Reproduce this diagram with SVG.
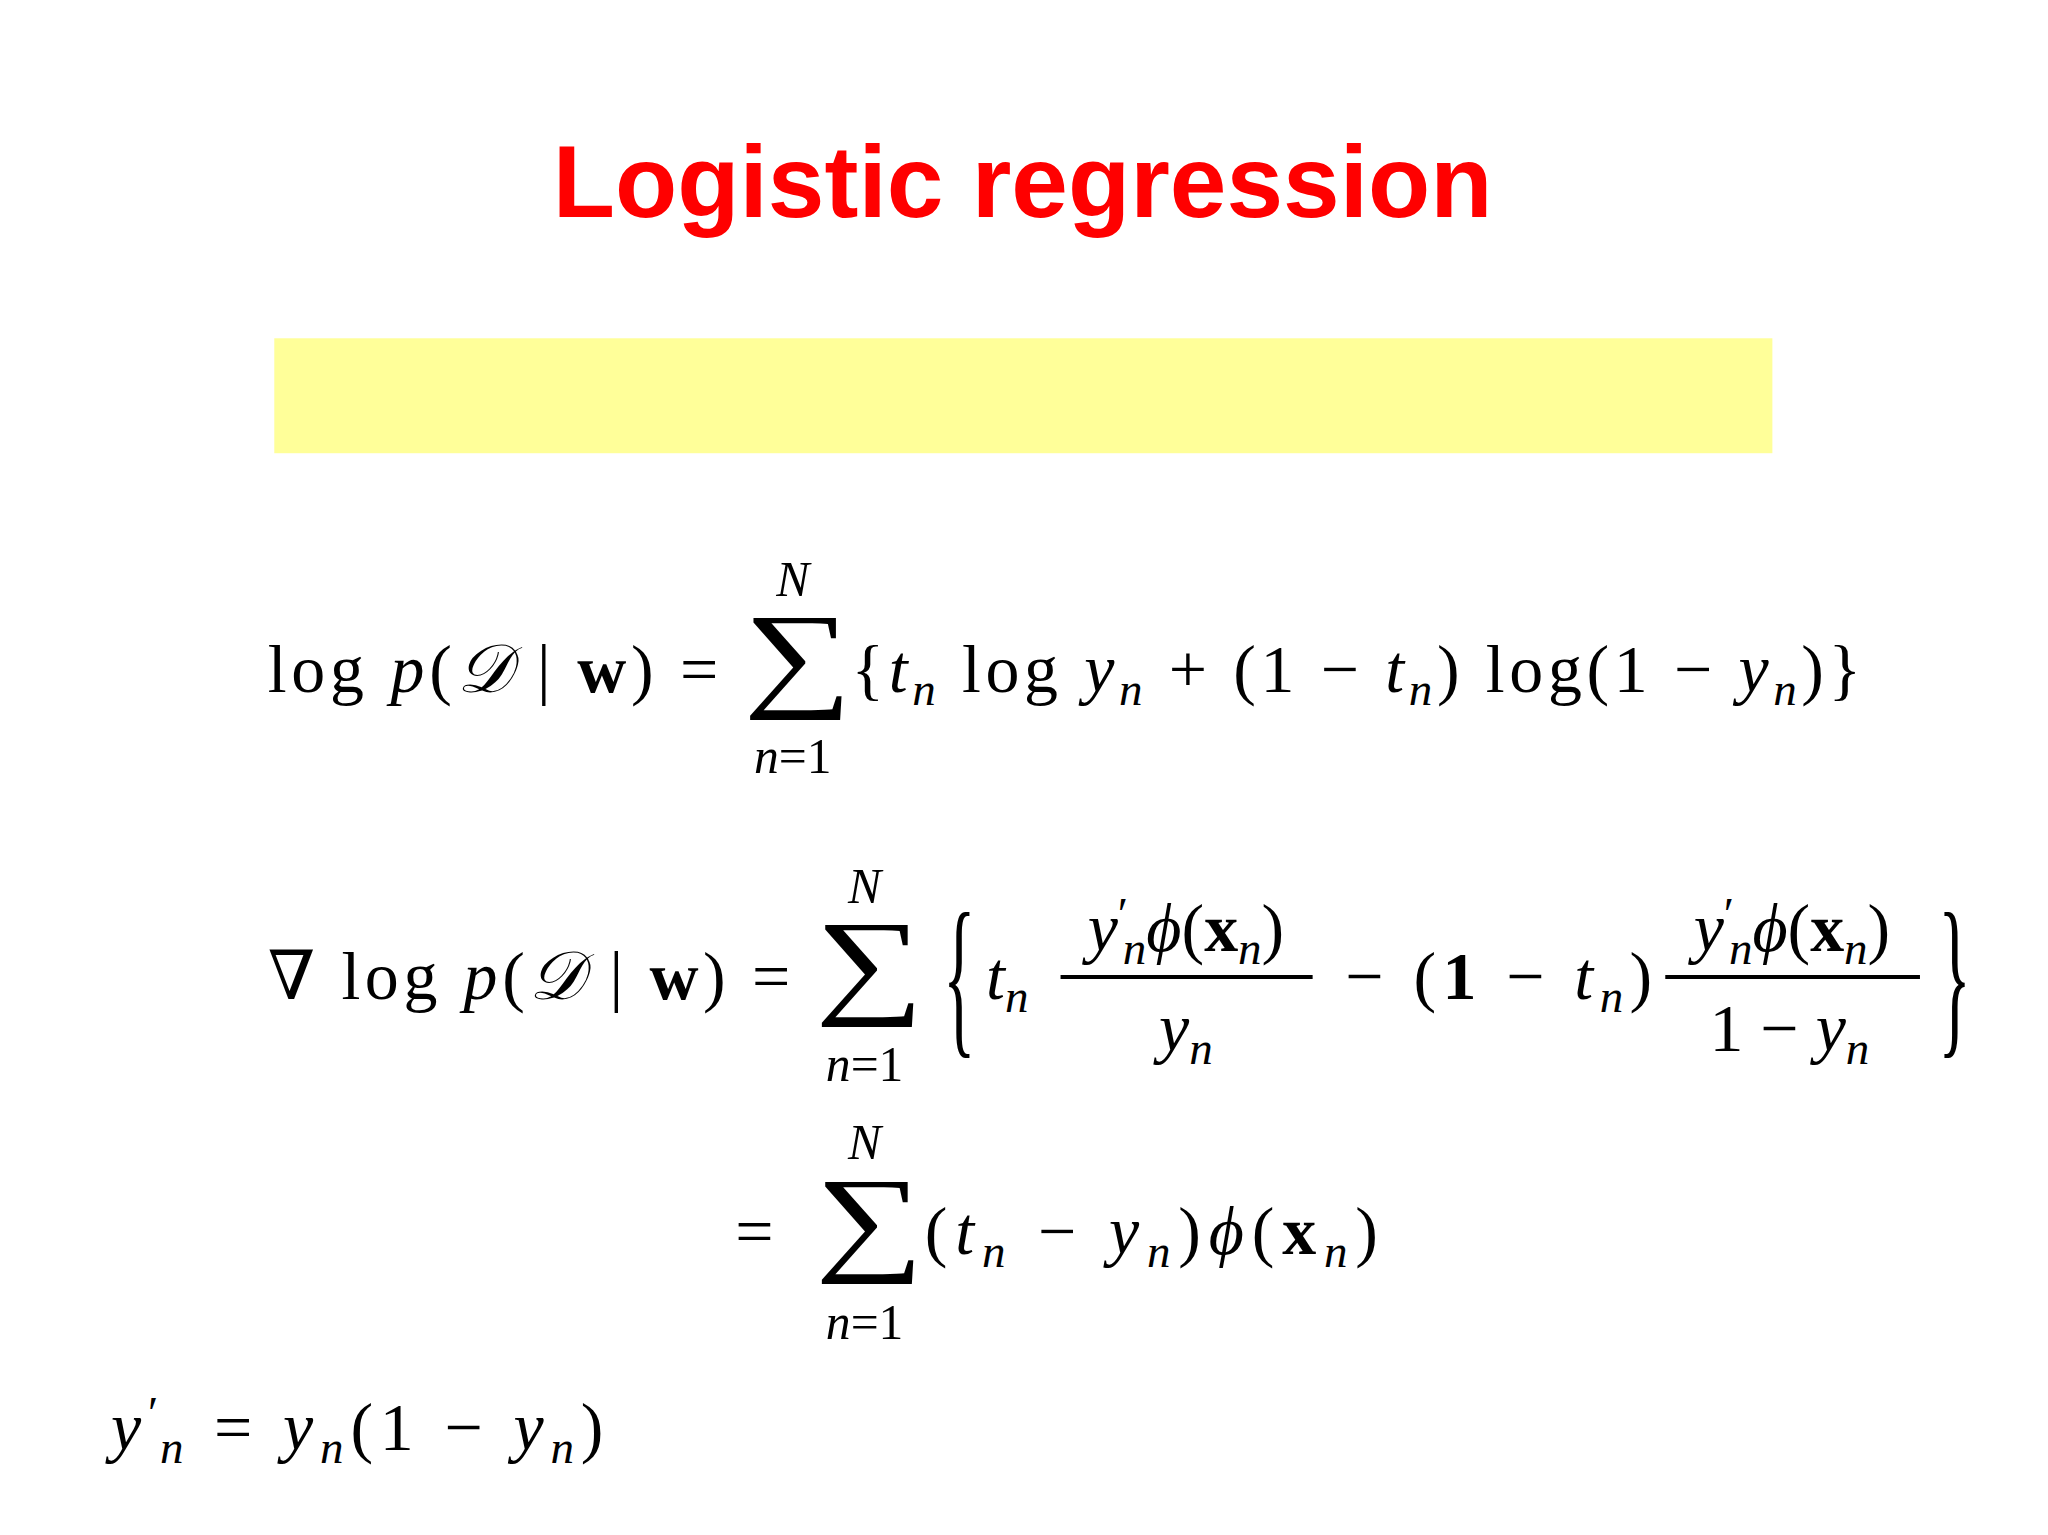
<svg xmlns="http://www.w3.org/2000/svg" width="2048" height="1535" viewBox="0 0 2048 1535">
<style>
.m{font-family:"Liberation Serif","DejaVu Serif",serif;font-size:52px;fill:#000}
.i{font-style:italic}
.b{font-weight:bold}
.s{font-size:36px}
.sm{font-size:38px;font-style:italic}
.big{font-size:90px}
</style>
<rect width="2048" height="1535" fill="#fff"/>
<g transform="scale(1.3061)">
<g id="title"><text x="783" y="166" text-anchor="middle" font-family="Liberation Sans,Arial,sans-serif" font-weight="bold" font-size="78" fill="#f00">Logistic regression</text></g>
<g id="banner"><rect x="210" y="259" width="1147" height="88" fill="#ffff99"/></g>
<g id="eq1">
<text class="m" x="205" y="530" textLength="345">log <tspan class="i">p</tspan>(<tspan class="i">𝒟</tspan> | <tspan class="b">w</tspan>) =</text>
<text class="m big" transform="translate(569,532) scale(1.3,1)">∑</text>
<text class="m sm" x="607" y="456" text-anchor="middle">N</text>
<text class="m sm" x="607" y="592" text-anchor="middle"><tspan class="i">n</tspan><tspan font-style="normal">=1</tspan></text>
<text class="m" x="652" y="530" textLength="773">{<tspan class="i">t</tspan><tspan class="i s" dy="10">n</tspan><tspan dy="-10"> log </tspan><tspan class="i">y</tspan><tspan class="i s" dy="10">n</tspan><tspan dy="-10"> + (1 − </tspan><tspan class="i">t</tspan><tspan class="i s" dy="10">n</tspan><tspan dy="-10">) log(1 − </tspan><tspan class="i">y</tspan><tspan class="i s" dy="10">n</tspan><tspan dy="-10">)}</tspan></text>
</g>
<g id="eq2">
<text class="m" x="205" y="765" textLength="400">∇ log <tspan class="i">p</tspan>(<tspan class="i">𝒟</tspan> | <tspan class="b">w</tspan>) =</text>
<text class="m big" transform="translate(624,767) scale(1.3,1)">∑</text>
<text class="m sm" x="662" y="691" text-anchor="middle">N</text>
<text class="m sm" x="662" y="828" text-anchor="middle"><tspan class="i">n</tspan><tspan font-style="normal">=1</tspan></text>
<text class="m" transform="translate(722,792) scale(1,2.6)">{</text>
<text class="m" x="755" y="765"><tspan class="i">t</tspan><tspan class="i s" dy="10">n</tspan></text>
<text class="m" x="908" y="728" text-anchor="middle"><tspan class="i">y</tspan><tspan class="s" dy="-16">′</tspan><tspan class="i s" dy="26" dx="-4">n</tspan><tspan class="i" dy="-10">ϕ</tspan>(<tspan class="b">x</tspan><tspan class="i s" dy="10">n</tspan><tspan dy="-10">)</tspan></text>
<line x1="812" y1="748" x2="1005" y2="748" stroke="#000" stroke-width="3"/>
<text class="m" x="908" y="805" text-anchor="middle"><tspan class="i">y</tspan><tspan class="i s" dy="10">n</tspan></text>
<text class="m" x="1030" y="765" textLength="235">− (<tspan class="b">1</tspan> − <tspan class="i">t</tspan><tspan class="i s" dy="10">n</tspan><tspan dy="-10">)</tspan></text>
<text class="m" x="1372" y="728" text-anchor="middle"><tspan class="i">y</tspan><tspan class="s" dy="-16">′</tspan><tspan class="i s" dy="26" dx="-4">n</tspan><tspan class="i" dy="-10">ϕ</tspan>(<tspan class="b">x</tspan><tspan class="i s" dy="10">n</tspan><tspan dy="-10">)</tspan></text>
<line x1="1275" y1="748" x2="1470" y2="748" stroke="#000" stroke-width="3"/>
<text class="m" x="1370" y="805" text-anchor="middle">1 − <tspan class="i">y</tspan><tspan class="i s" dy="10">n</tspan></text>
<text class="m" transform="translate(1484,792) scale(1,2.6)">}</text>
</g>
<g id="eq3">
<text class="m" x="563" y="960">=</text>
<text class="m big" transform="translate(624,964) scale(1.3,1)">∑</text>
<text class="m sm" x="662" y="887" text-anchor="middle">N</text>
<text class="m sm" x="662" y="1025" text-anchor="middle"><tspan class="i">n</tspan><tspan font-style="normal">=1</tspan></text>
<text class="m" x="708" y="960" textLength="347">(<tspan class="i">t</tspan><tspan class="i s" dy="10">n</tspan><tspan dy="-10"> − </tspan><tspan class="i">y</tspan><tspan class="i s" dy="10">n</tspan><tspan dy="-10">)</tspan><tspan class="i">ϕ</tspan>(<tspan class="b">x</tspan><tspan class="i s" dy="10">n</tspan><tspan dy="-10">)</tspan></text>
</g>
<g id="eq4">
<text class="m" x="85" y="1110" textLength="377"><tspan class="i">y</tspan><tspan class="s" dy="-16">′</tspan><tspan class="i s" dy="26" dx="-4">n</tspan><tspan dy="-10"> = </tspan><tspan class="i">y</tspan><tspan class="i s" dy="10">n</tspan><tspan dy="-10">(1 − </tspan><tspan class="i">y</tspan><tspan class="i s" dy="10">n</tspan><tspan dy="-10">)</tspan></text>
</g>
</g>
</svg>
